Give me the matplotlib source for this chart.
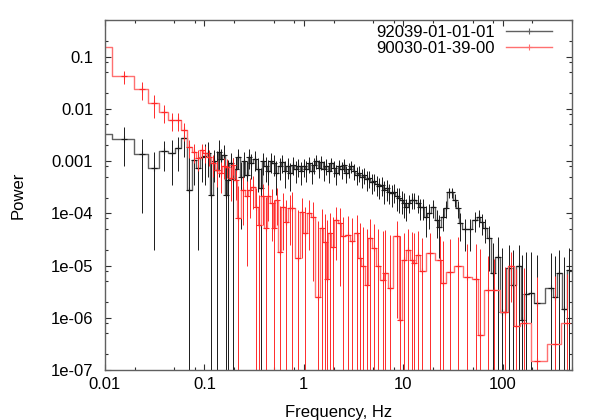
import numpy as np
import matplotlib
matplotlib.use("Agg")
import matplotlib.pyplot as plt
from matplotlib.lines import Line2D
from matplotlib.ticker import LogLocator, FixedLocator, FixedFormatter, NullFormatter

plt.rcParams['font.family'] = ['Liberation Sans', 'DejaVu Sans']

# 92039-01-01-01 (black): frequency (Hz), power, 1-sigma error
freq_a = [0.0078, 0.0156, 0.0234, 0.0313, 0.0391, 0.0469, 0.0547, 0.0625, 0.0703, 0.0781,
          0.0859, 0.0938, 0.1016, 0.109, 0.117, 0.125, 0.133, 0.141, 0.148, 0.156,
          0.164, 0.172, 0.184, 0.195, 0.207, 0.219, 0.234, 0.25, 0.266, 0.281,
          0.297, 0.32, 0.344, 0.367, 0.391, 0.414, 0.438, 0.469, 0.5, 0.531,
          0.57, 0.609, 0.648, 0.688, 0.734, 0.781, 0.828, 0.883, 0.938, 1.0,
          1.06, 1.13, 1.2, 1.27, 1.34, 1.42, 1.5, 1.59, 1.69, 1.79,
          1.9, 2.01, 2.13, 2.26, 2.4, 2.54, 2.69, 2.85, 3.02, 3.2,
          3.4, 3.6, 3.81, 4.04, 4.28, 4.54, 4.81, 5.1, 5.4, 5.73,
          6.07, 6.43, 6.82, 7.23, 7.66, 8.12, 8.6, 9.12, 9.67, 10.1,
          10.8, 11.5, 12.2, 13.0, 14.0, 14.8, 15.7, 16.8, 18.0, 19.8,
          21.7, 22.7, 24.9, 26.7, 28.6, 30.7, 32.9, 35.3, 37.0, 41.5,
          46.6, 52.3, 57.4, 61.5, 65.9, 72.3, 79.3, 89.0, 98.0, 117,
          126, 148, 158, 174, 195, 224, 309, 334, 373, 418,
          468]
power_a = [3.3e-3, 2.6e-3, 1.35e-3, 7.5e-4, 1.55e-3, 1.45e-3, 1.75e-3, 2.7e-3, 2.8e-4, 1.05e-3,
           7.2e-4, 1.2e-3, 1.25e-3, 1.4e-3, 2.2e-4, 1.0e-3, 6.7e-4, 1.5e-3, 1.1e-3, 1.3e-3,
           2.2e-4, 4.3e-4, 9e-4, 4.5e-4, 7e-4, 1.2e-3, 5e-4, 1.0e-3, 5.4e-4, 1.2e-3,
           9e-4, 1.1e-3, 7e-4, 3.0e-4, 1.0e-3, 8e-4, 6.5e-4, 1.0e-3, 9e-4, 6e-4,
           8e-4, 9.5e-4, 6.5e-4, 8e-4, 6e-4, 8.5e-4, 7e-4, 8e-4, 6.5e-4, 8e-4,
           7.0e-4, 9.0e-4, 6.5e-4, 8.5e-4, 1.0e-3, 7.5e-4, 9.5e-4, 7.0e-4, 8.0e-4, 6.5e-4,
           9.0e-4, 7.5e-4, 6.0e-4, 8.0e-4, 7.0e-4, 8.5e-4, 6.0e-4, 7.0e-4, 8.0e-4, 6.5e-4,
           5.5e-4, 6.0e-4, 5.0e-4, 5.5e-4, 4.5e-4, 4.8e-4, 4.0e-4, 4.2e-4, 3.6e-4, 3.3e-4,
           3.5e-4, 2.8e-4, 3.0e-4, 2.6e-4, 2.4e-4, 2.6e-4, 2.1e-4, 2.0e-4, 1.8e-4, 1.6e-4,
           1.3e-4, 1.6e-4, 1.8e-4, 1.8e-4, 1.6e-4, 1.3e-4, 1.3e-4, 8.5e-5, 1.0e-4, 1.3e-4,
           7.4e-5, 5.4e-5, 8.5e-5, 1.25e-4, 2.5e-4, 2.5e-4, 1.8e-4, 1.25e-4, 6.5e-5, 4.9e-5,
           4.9e-5, 7.4e-5, 8.5e-5, 6.8e-5, 5.2e-5, 3.3e-5, 7.2e-6, 1.44e-5, 1.3e-6, 9e-6,
           4.2e-6, 1.0e-5, 9.1e-7, 2.8e-6, 3.0e-6, 1.9e-6, 3.7e-6, 2.5e-6, 7.2e-6, 1.5e-6,
           8.2e-6]
err_a = [1.5e-3, 1.8e-3, 1.25e-3, 7.3e-4, 9e-4, 1.1e-3, 1.1e-3, 1.5e-3, 9e-4, 7e-4,
         7e-4, 8e-4, 9e-4, 9e-4, 8e-4, 6e-4, 9e-4, 1.0e-3, 6e-4, 7e-4,
         6e-4, 6e-4, 5e-4, 7e-4, 5e-4, 5e-4, 4.5e-4, 5e-4, 4.5e-4, 5e-4,
         4.5e-4, 4.5e-4, 4.5e-4, 4.5e-4, 4.5e-4, 4e-4, 4e-4, 4e-4, 3.8e-4, 3.8e-4,
         3.6e-4, 3.6e-4, 3.5e-4, 3.4e-4, 3.3e-4, 3.2e-4, 3.2e-4, 3.1e-4, 3.1e-4, 3.0e-4,
         3.0e-4, 3.0e-4, 2.9e-4, 2.9e-4, 2.9e-4, 2.8e-4, 2.8e-4, 2.8e-4, 2.7e-4, 2.7e-4,
         2.6e-4, 2.5e-4, 2.5e-4, 2.5e-4, 2.4e-4, 2.4e-4, 2.2e-4, 2.2e-4, 2.2e-4, 2.1e-4,
         2.1e-4, 2.0e-4, 2.0e-4, 1.8e-4, 1.8e-4, 1.7e-4, 1.7e-4, 1.5e-4, 1.5e-4, 1.4e-4,
         1.4e-4, 1.3e-4, 1.3e-4, 1.1e-4, 1.1e-4, 1.0e-4, 1.0e-4, 1.0e-4, 8.5e-5, 8e-5,
         6e-5, 6e-5, 6e-5, 6e-5, 6e-5, 5.5e-5, 5.5e-5, 5e-5, 5e-5, 5e-5,
         4e-5, 4e-5, 4e-5, 4.5e-5, 5.5e-5, 5.5e-5, 5e-5, 4.5e-5, 3.5e-5, 3e-5,
         3e-5, 3e-5, 3e-5, 3e-5, 2.5e-5, 2.5e-5, 2e-5, 2e-5, 2e-5, 1.6e-5,
         1.6e-5, 1.5e-5, 1.5e-5, 1.5e-5, 1.5e-5, 1.4e-5, 1.4e-5, 1.3e-5, 1.3e-5, 1.3e-5,
         1.3e-5]

# 90030-01-39-00 (red)
freq_b = [0.0078, 0.0156, 0.0234, 0.0313, 0.0391, 0.0469, 0.0547, 0.0625, 0.0703, 0.0781,
          0.0859, 0.0938, 0.101, 0.112, 0.123, 0.134, 0.146, 0.157, 0.168, 0.184,
          0.193, 0.207, 0.22, 0.244, 0.267, 0.286, 0.306, 0.334, 0.356, 0.386,
          0.416, 0.436, 0.474, 0.497, 0.534, 0.571, 0.613, 0.67, 0.72, 0.77,
          0.87, 0.95, 1.02, 1.14, 1.23, 1.38, 1.51, 1.62, 1.70, 1.83,
          1.96, 2.10, 2.30, 2.47, 2.77, 3.04, 3.41, 3.65, 3.91, 4.29,
          4.6, 5.04, 5.52, 6.2, 6.64, 7.3, 8.6, 9.4, 10.1, 11.1,
          12.2, 13.0, 14.0, 15.3, 18.5, 23.3, 24.9, 29.3, 35.3, 44.4,
          53.5, 58.7, 70.6, 82, 107, 122, 137, 165, 224, 334,
          445]
power_b = [0.15, 0.042, 0.0235, 0.0127, 0.0085, 0.006, 0.006, 0.0039, 0.00185, 0.0015,
           0.00113, 0.00162, 0.0014, 0.0012, 0.0009, 6.7e-4, 5.9e-4, 8e-4, 7.7e-4, 4.7e-4,
           8.4e-4, 4.3e-4, 8.1e-5, 2.8e-4, 2.1e-4, 2.8e-4, 3.2e-4, 1.3e-4, 6e-5, 2.1e-4,
           5.2e-5, 2.1e-4, 1.6e-4, 5.2e-5, 1.8e-4, 1.8e-5, 1.3e-4, 6.8e-5, 1.25e-4, 1.25e-4,
           1.4e-5, 1.04e-4, 4.2e-5, 1.0e-4, 8.5e-5, 2.5e-6, 5.3e-5, 2.8e-5, 5.5e-6, 4.2e-5,
           2.3e-5, 7.3e-5, 6.4e-5, 3.6e-5, 3.8e-5, 3.0e-5, 4.2e-5, 1.4e-5, 1.0e-5, 4.2e-6,
           3.4e-5, 2.2e-5, 1.0e-5, 5.2e-6, 7.1e-6, 3.7e-6, 3.6e-5, 9.1e-7, 1.25e-5, 2.0e-5,
           1.3e-5, 1.1e-5, 1.6e-5, 8e-6, 1.7e-5, 1.25e-5, 4.7e-6, 7.4e-6, 1.0e-5, 6e-6,
           5.5e-6, 4.6e-7, 3.4e-6, 3.4e-6, 1.3e-6, 1.0e-5, 7e-7, 8e-7, 1.5e-7, 3.2e-7,
           7.8e-7]
err_b = [0.03, 0.012, 0.009, 0.006, 0.0032, 0.0022, 0.0022, 0.0015, 7e-4, 6e-4,
         5e-4, 5e-4, 5e-4, 4e-4, 4e-4, 3.5e-4, 3.5e-4, 3.5e-4, 3e-4, 3e-4,
         3e-4, 2.5e-4, 2.5e-4, 2.2e-4, 2e-4, 2e-4, 2e-4, 1.8e-4, 1.6e-4, 1.5e-4,
         1.5e-4, 1.4e-4, 1.3e-4, 1.3e-4, 1.2e-4, 1.2e-4, 1.1e-4, 1.1e-4, 1e-4, 1.3e-4,
         1e-4, 9e-5, 9e-5, 8e-5, 8e-5, 7e-5, 7e-5, 7e-5, 7e-5, 6e-5,
         6e-5, 6e-5, 6e-5, 5e-5, 5e-5, 5e-5, 5e-5, 5e-5, 4.5e-5, 4.5e-5,
         4.5e-5, 4e-5, 4e-5, 4e-5, 4e-5, 3.5e-5, 3.5e-5, 3.5e-5, 3e-5, 3e-5,
         3e-5, 3e-5, 3e-5, 2.5e-5, 2.5e-5, 2.5e-5, 2.5e-5, 2.5e-5, 2.5e-5, 2e-5,
         2e-5, 2e-5, 1.2e-5, 1e-5, 8e-6, 8e-6, 8e-6, 8e-6, 6e-6, 6e-6,
         6e-6]

series = [
    ("92039-01-01-01", freq_a, power_a, err_a, "#606060", "#1a1a1a"),
    ("90030-01-39-00", freq_b, power_b, err_b, "#ff7070", "#ff2a2a"),
]

ytick_vals = [1e-7, 1e-6, 1e-5, 1e-4, 1e-3, 1e-2, 1e-1]
ytick_labels = ["1e-07", "1e-06", "1e-05", "1e-04", "0.001", "0.01", "0.1"]
xtick_vals = [0.01, 0.1, 1, 10, 100]
xtick_labels = ["0.01", "0.1", "1", "10", "100"]

fig = plt.figure(figsize=(6, 4.2), dpi=100)
ax = fig.add_axes([105 / 600, 50 / 420, 467 / 600, 350 / 420])
ax.set_xscale("log")
ax.set_yscale("log")

handles = []
for name, f, p, e, c_step, c_err in series:
    f = np.array(f)
    p = np.array(p)
    e = np.array(e)
    # bars whose lower end would go negative run down off the axis
    lo = np.where(p - e > 0, e, p - 1e-10)
    ax.step(f, p, where="mid", color=c_step, lw=1.0)
    ax.errorbar(f, p, yerr=[lo, e], fmt="none", ecolor=c_err, elinewidth=0.7, capsize=0)
    ax.plot(f, p, ls="none", marker="+", ms=5, mew=0.8, color=c_err)
    handles.append(Line2D([], [], color=c_step, lw=1.0, marker="+", ms=5, mew=0.8,
                          markeredgecolor=c_step))

ax.set_xlim(0.01, 500)
ax.set_ylim(1e-7, 0.5)

ax.xaxis.set_major_locator(FixedLocator(xtick_vals))
ax.xaxis.set_major_formatter(FixedFormatter(xtick_labels))
ax.yaxis.set_major_locator(FixedLocator(ytick_vals))
ax.yaxis.set_major_formatter(FixedFormatter(ytick_labels))
ax.xaxis.set_minor_locator(LogLocator(base=10, subs=(2, 5, 8)))
ax.yaxis.set_minor_locator(LogLocator(base=10, subs=(2, 5, 8)))
ax.xaxis.set_minor_formatter(NullFormatter())
ax.yaxis.set_minor_formatter(NullFormatter())

ax.tick_params(which="both", direction="in", top=True, right=True, color="#303030",
               width=0.8, labelsize=12)
ax.tick_params(which="major", length=4.5)
ax.tick_params(which="minor", length=2.5)
ax.tick_params(axis="y", which="major", pad=8.5)
ax.tick_params(axis="x", which="major", pad=5)
for s in ax.spines.values():
    s.set_color("#606060")
    s.set_linewidth(1.0)

ax.set_xlabel("Frequency, Hz", fontsize=12)
ax.set_ylabel("Power", fontsize=12)
ax.xaxis.label.set_va("center")
ax.xaxis.set_label_coords(0.5, -0.12)
ax.yaxis.label.set_va("center")
ax.yaxis.set_label_coords(-0.186, 0.5)

ax.legend(handles, [s[0] for s in series], loc="upper right", frameon=False,
          fontsize=12, markerfirst=False, handlelength=2.75, handletextpad=0.7,
          labelspacing=0.05, borderpad=0, borderaxespad=0,
          bbox_to_anchor=((552 - 105) / 467, 1 - 5 / 350))

fig.savefig("out.png", dpi=100)
